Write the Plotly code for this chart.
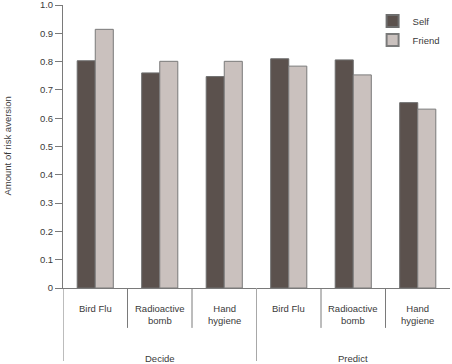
import plotly.graph_objects as go

categories = ["Bird Flu", "Radioactive<br>bomb", "Hand<br>hygiene",
              "Bird Flu", "Radioactive<br>bomb", "Hand<br>hygiene"]
groups = ["Decide", "Predict"]
self_vals = [0.803, 0.760, 0.747, 0.810, 0.806, 0.655]
friend_vals = [0.914, 0.801, 0.801, 0.784, 0.753, 0.632]
y_ticks = [0, 0.1, 0.2, 0.3, 0.4, 0.5, 0.6, 0.7, 0.8, 0.9, 1.0]
y_ticklabels = ["0", "0.1", "0.2", "0.3", "0.4", "0.5", "0.6", "0.7", "0.8", "0.9", "1.0"]

FONT = "Liberation Sans, Arial, sans-serif"
FS = 9.5
TXT = "#3a3a3a"
LINE = "#7a7a7a"

xs = list(range(len(categories)))

fig = go.Figure()
fig.add_trace(go.Bar(x=xs, y=self_vals, name="Self",
                     marker=dict(color="#5b514d", line=dict(color="#6e6e6e", width=1))))
fig.add_trace(go.Bar(x=xs, y=friend_vals, name="Friend",
                     marker=dict(color="#cac1be", line=dict(color="#7a7a7a", width=1))))

shapes = []
n = len(categories)
per_group = n // len(groups)
for i in range(1, n):
    is_group_edge = (i % per_group == 0)
    shapes.append(dict(type="line", xref="x", yref="paper",
                       x0=i - 0.5, x1=i - 0.5, y0=0, y1=-0.258 if is_group_edge else -0.141,
                       line=dict(color="#a8a8a8" if is_group_edge else LINE, width=1)))
shapes.append(dict(type="line", xref="x", yref="paper", x0=-0.5, x1=-0.5, y0=0, y1=-0.258,
                   line=dict(color=LINE, width=1)))

annotations = []
for i, c in enumerate(categories):
    annotations.append(dict(x=i, y=0, xref="x", yref="paper", yshift=-13, text=c,
                            showarrow=False, yanchor="top",
                            font=dict(family=FONT, size=FS, color=TXT)))
for g_i, g in enumerate(groups):
    annotations.append(dict(x=g_i * per_group + (per_group - 1) / 2, y=0, xref="x", yref="paper",
                            yshift=-70, text=g, showarrow=False, yanchor="middle",
                            font=dict(family=FONT, size=FS, color=TXT)))
annotations.append(dict(x=0, y=0.5, xref="paper", yref="paper", xshift=-56, text="Amount of risk aversion",
                        textangle=-90, showarrow=False, xanchor="center", yanchor="middle",
                        font=dict(family=FONT, size=FS, color=TXT)))

fig.update_layout(
    template="none",
    width=452, height=364,
    margin=dict(l=63, r=2, t=5, b=76, autoexpand=False),
    paper_bgcolor="white", plot_bgcolor="white",
    barmode="group", bargap=0.44, bargroupgap=0,
    font=dict(family=FONT, size=FS, color=TXT),
    showlegend=True,
    legend=dict(x=0.80, y=0.995, xanchor="left", yanchor="top",
                font=dict(family=FONT, size=FS, color=TXT),
                bgcolor="rgba(0,0,0,0)", itemsizing="constant", tracegroupgap=4),
    xaxis=dict(range=[-0.5, n - 0.5], showticklabels=False, ticks="", showgrid=False,
               zeroline=False, showline=True, linecolor=LINE, linewidth=1, automargin=False),
    yaxis=dict(range=[0, 1.0], tickvals=y_ticks, ticktext=y_ticklabels, ticks="outside",
               ticklen=7, tickcolor=LINE, showgrid=False, zeroline=False, showline=True,
               linecolor=LINE, linewidth=1, automargin=False, ticklabeloverflow="allow",
               tickfont=dict(family=FONT, size=FS, color=TXT)),
    shapes=shapes, annotations=annotations,
)

fig.write_html("out.html", config={"displayModeBar": False},
               post_script="document.body.style.margin='0';")
